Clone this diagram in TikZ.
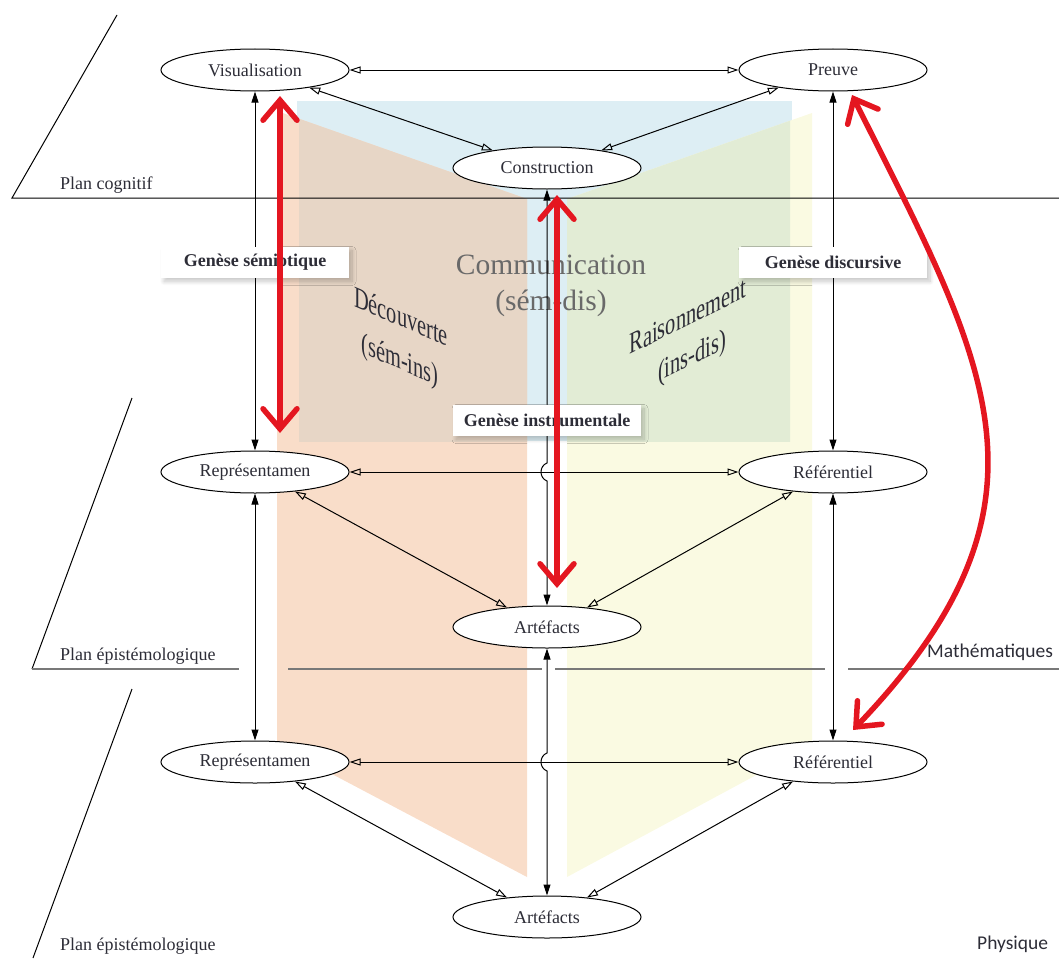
\documentclass[tikz,border=0pt]{standalone}
\usepackage{fontspec}
\setmainfont{Liberation Serif}
\newfontfamily\calfont{Carlito}
\usetikzlibrary{arrows.meta,shapes.geometric,shadows.blur}
\definecolor{cblue}{RGB}{221,238,244}
\definecolor{corange}{RGB}{249,221,201}
\definecolor{cbrown}{RGB}{231,214,198}
\definecolor{cyellow}{RGB}{250,250,226}
\definecolor{cgreen}{RGB}{226,236,213}
\definecolor{cred}{RGB}{228,22,32}
\definecolor{cgray}{RGB}{105,105,105}
\definecolor{ctext}{RGB}{45,45,55}
\definecolor{cline}{RGB}{120,120,120}
\begin{document}
\begin{tikzpicture}[x=1pt,y=-1pt,
  ell/.style={ellipse,draw=black,line width=1pt,fill=white,minimum width=188pt,minimum height=42pt,inner sep=0pt,font=\fontsize{18}{20}\selectfont,text=ctext},
  conn/.style={line width=1pt,{Triangle[open,length=11pt,width=7pt]}-{Triangle[open,length=11pt,width=7pt]}},
  vconn/.style={line width=1pt,{Triangle[length=11pt,width=7pt]}-{Triangle[length=11pt,width=7pt]}},
  genbox/.style={fill=white,minimum width=188pt,minimum height=31pt,inner sep=0pt,font=\bfseries\fontsize{18}{20}\selectfont,text=ctext,blur shadow={shadow xshift=3pt,shadow yshift=-4pt,shadow blur steps=12,shadow blur radius=4pt,shadow opacity=22}},
  redarr/.style={draw=cred,line width=5.5pt,line cap=round,line join=round,{Straight Barb[length=20pt,width=34pt,line cap=round]}-{Straight Barb[length=20pt,width=34pt,line cap=round]}},
  plan/.style={font=\fontsize{18}{20}\selectfont,text=ctext,inner sep=0pt},
  sanslab/.style={font=\calfont\fontsize{19.5}{21}\selectfont,text=ctext,inner sep=0pt},
  big/.style={font=\fontsize{29.5}{32}\selectfont,text=cgray,inner sep=0pt},
  side/.style={font=\fontsize{30}{32}\selectfont,text=ctext,inner sep=0pt}
]
\useasboundingbox (0,0) rectangle (1059,958);
% panels
\fill[cblue] (297,101) rectangle (792,441);
\fill[corange] (277,111) -- (527,199) -- (527,877) -- (277,745) -- cycle;
\fill[cyellow] (567,199) -- (812,113) -- (812,745) -- (567,877) -- cycle;
\begin{scope}
  \clip (299,101) rectangle (790,441);
  \fill[cbrown] (277,111) -- (527,199) -- (527,877) -- (277,745) -- cycle;
  \fill[cgreen] (567,199) -- (812,113) -- (812,745) -- (567,877) -- cycle;
\end{scope}
% big texts
\node[big,anchor=base] (comm) at (551,274) {Communication};
\node[big,anchor=base] (semdis) at (551,310) {(sém-dis)};
\node[side,cm={0.68,-0.29,0,1,(0,0)}] (dec) at (401,316) {Découverte};
\node[side,cm={0.68,-0.29,0,1,(0,0)}] (semins) at (400,362) {(sém-ins)};
\node[side,cm={0.68,0.34,0,1,(0,0)}] (rais) at (688,316) {Raisonnement};
\node[side,cm={0.68,0.34,0,1,(0,0)}] (insdis) at (692,358) {(ins-dis)};
% planes
\coordinate (pc1) at (117,15);
\coordinate (pc2) at (12,198);
\coordinate (pc3) at (1059,198);
\draw[line width=1pt] (pc1) -- (pc2) -- (pc3);
\coordinate (pe1) at (132,398);
\coordinate (pe2) at (32,669);
\draw[line width=1pt] (pe1) -- (pe2);
\draw[cline,line width=1.5pt] (pe2) -- (239,669) (288,669) -- (542,669) (555,669) -- (825,669) (848,669) -- (1059,669);
\coordinate (pf1) at (132,689);
\coordinate (pf2) at (33,958);
\draw[line width=1pt] (pf1) -- (pf2);
% labels
\node[plan,anchor=base west] (lcog) at (60,189) {Plan cognitif};
\node[plan,anchor=base west] (lep1) at (60,660) {Plan épistémologique};
\node[plan,anchor=base west] (lep2) at (60,950) {Plan épistémologique};
\node[sanslab,anchor=base west] (lmath) at (927,657) {Mathématiques};
\node[sanslab,anchor=base west] (lphys) at (977,949) {Physique};
% nodes
\node[ell] (vis) at (255,70) {Visualisation};
\node[ell] (preuve) at (833,70) {Preuve};
\node[ell] (cons) at (547,168) {Construction};
\node[ell] (rep1) at (255,472) {Représentamen};
\node[ell] (ref1) at (833,472) {Référentiel};
\node[ell] (art1) at (547,627) {Artéfacts};
\node[ell] (rep2) at (255,762) {Représentamen};
\node[ell] (ref2) at (833,762) {Référentiel};
\node[ell] (art2) at (547,917) {Artéfacts};
% connectors
\draw[conn] (vis) -- (preuve);
\draw[conn] (vis.-18) -- (cons.162);
\draw[conn] (preuve.198) -- (cons.18);
\draw[conn] (rep1) -- (ref1);
\draw[conn] (rep1.-26) -- (art1.154);
\draw[conn] (ref1.206) -- (art1.26);
\draw[conn] (rep2) -- (ref2);
\draw[conn] (rep2.-26) -- (art2.154);
\draw[conn] (ref2.206) -- (art2.26);
\draw[vconn] (vis.south) -- (rep1.north);
\draw[vconn] (rep1.south) -- (rep2.north);
\draw[vconn] (preuve.south) -- (ref1.north);
\draw[vconn] (ref1.south) -- (ref2.north);
\coordinate (h1a) at (547,463);
\coordinate (h1b) at (547,481);
\coordinate (h2a) at (547,753);
\coordinate (h2b) at (547,771);
\draw[vconn] (cons.south) -- (h1a) .. controls (539,466) and (539,478) .. (h1b) -- (art1.north);
\draw[vconn] (art1.south) -- (h2a) .. controls (539,756) and (539,768) .. (h2b) -- (art2.north);
% boxes
\node[genbox] (gs) at (255,262) {Genèse sémiotique};
\node[genbox] (gd) at (833,262) {Genèse discursive};
\node[genbox] (gi) at (547,420) {Genèse instrumentale};
% red arrows
\coordinate (r1a) at (280,96);
\coordinate (r1b) at (280,433);
\coordinate (r2a) at (557,195);
\coordinate (r2b) at (557,588);
\coordinate (r3a) at (852,95);
\coordinate (r3b) at (853,730);
\draw[redarr] (r1a) -- (r1b);
\draw[redarr] (r2a) -- (r2b);
\draw[redarr] (r3a) .. controls (986,363) and (1072,501) .. (r3b);
\end{tikzpicture}
\end{document}
